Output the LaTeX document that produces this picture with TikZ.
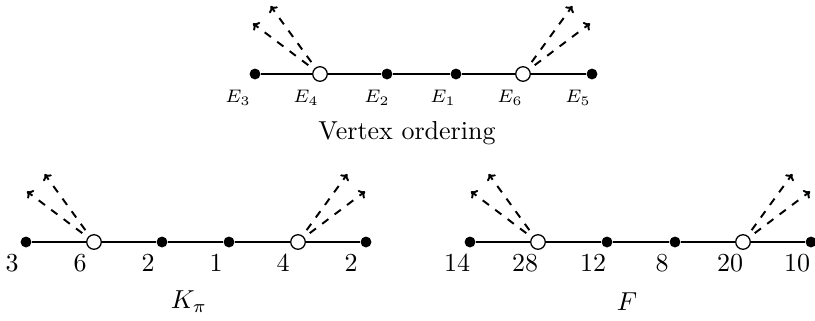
\documentclass[tikz,border=0pt]{standalone}
\usetikzlibrary{arrows.meta}
\begin{document}
\begin{tikzpicture}[x=0.385pt,y=-0.385pt,
  bdot/.style={circle,fill=black,inner sep=0pt,minimum size=4.2pt},
  wdot/.style={circle,draw=black,fill=white,inner sep=0pt,minimum size=5.6pt,line width=0.5pt},
  edge/.style={line width=0.45pt},
  dasharrow/.style={dashed,line width=0.75pt,shorten <=2.6pt,-{To[length=2.2pt,width=4pt]}},
  slab/.style={font=\scriptsize,inner sep=0pt},
  nlab/.style={inner sep=0pt}]
\useasboundingbox (0,0) rectangle (815,320);
% ---------- top row ----------
\node[bdot] (a1) at (255,74) {};
\node[wdot] (a2) at (320,74) {};
\node[bdot] (a3) at (387,74) {};
\node[bdot] (a4) at (456,74) {};
\node[wdot] (a5) at (523,74) {};
\node[bdot] (a6) at (592,74) {};
\draw[edge] (a1) -- (a2) -- (a3) -- (a4) -- (a5) -- (a6);
\coordinate (a2p) at ([shift={(-126:84)}]a2.center);
\coordinate (a2q) at ([shift={(-143:84)}]a2.center);
\coordinate (a5p) at ([shift={(-54:84)}]a5.center);
\coordinate (a5q) at ([shift={(-37:84)}]a5.center);
\draw[dasharrow] (a2) -- (a2p);
\draw[dasharrow] (a2) -- (a2q);
\draw[dasharrow] (a5) -- (a5p);
\draw[dasharrow] (a5) -- (a5q);
\node[slab] (la1) at (238,98) {$E_3$};
\node[slab] (la2) at (306,98) {$E_4$};
\node[slab] (la3) at (377,98) {$E_2$};
\node[slab] (la4) at (443,98) {$E_1$};
\node[slab] (la5) at (510,98) {$E_6$};
\node[slab] (la6) at (578,98) {$E_5$};
\node[nlab] (ta) at (407,133) {Vertex ordering};
% ---------- bottom left ----------
\node[bdot] (b1) at (26,242) {};
\node[wdot] (b2) at (94,242) {};
\node[bdot] (b3) at (162,242) {};
\node[bdot] (b4) at (229,242) {};
\node[wdot] (b5) at (298,242) {};
\node[bdot] (b6) at (366,242) {};
\draw[edge] (b1) -- (b2) -- (b3) -- (b4) -- (b5) -- (b6);
\coordinate (b2p) at ([shift={(-126:84)}]b2.center);
\coordinate (b2q) at ([shift={(-143:84)}]b2.center);
\coordinate (b5p) at ([shift={(-54:84)}]b5.center);
\coordinate (b5q) at ([shift={(-37:84)}]b5.center);
\draw[dasharrow] (b2) -- (b2p);
\draw[dasharrow] (b2) -- (b2q);
\draw[dasharrow] (b5) -- (b5p);
\draw[dasharrow] (b5) -- (b5q);
\node[nlab] (lb1) at (12,263) {$3$};
\node[nlab] (lb2) at (80,263) {$6$};
\node[nlab] (lb3) at (148,263) {$2$};
\node[nlab] (lb4) at (216,263) {$1$};
\node[nlab] (lb5) at (283,263) {$4$};
\node[nlab] (lb6) at (351,263) {$2$};
\node[nlab] (tb) at (189,302) {$K_\pi$};
% ---------- bottom right ----------
\node[bdot] (c1) at (470,242) {};
\node[wdot] (c2) at (538,242) {};
\node[bdot] (c3) at (607,242) {};
\node[bdot] (c4) at (675,242) {};
\node[wdot] (c5) at (743,242) {};
\node[bdot] (c6) at (811,242) {};
\draw[edge] (c1) -- (c2) -- (c3) -- (c4) -- (c5) -- (c6);
\coordinate (c2p) at ([shift={(-126:84)}]c2.center);
\coordinate (c2q) at ([shift={(-143:84)}]c2.center);
\coordinate (c5p) at ([shift={(-54:84)}]c5.center);
\coordinate (c5q) at ([shift={(-37:84)}]c5.center);
\draw[dasharrow] (c2) -- (c2p);
\draw[dasharrow] (c2) -- (c2q);
\draw[dasharrow] (c5) -- (c5p);
\draw[dasharrow] (c5) -- (c5q);
\node[nlab] (lc1) at (457,263) {$14$};
\node[nlab] (lc2) at (525,263) {$28$};
\node[nlab] (lc3) at (593,263) {$12$};
\node[nlab] (lc4) at (662,263) {$8$};
\node[nlab] (lc5) at (730,263) {$20$};
\node[nlab] (lc6) at (797,263) {$10$};
\node[nlab] (tc) at (627,302) {$F$};
\end{tikzpicture}
\end{document}
